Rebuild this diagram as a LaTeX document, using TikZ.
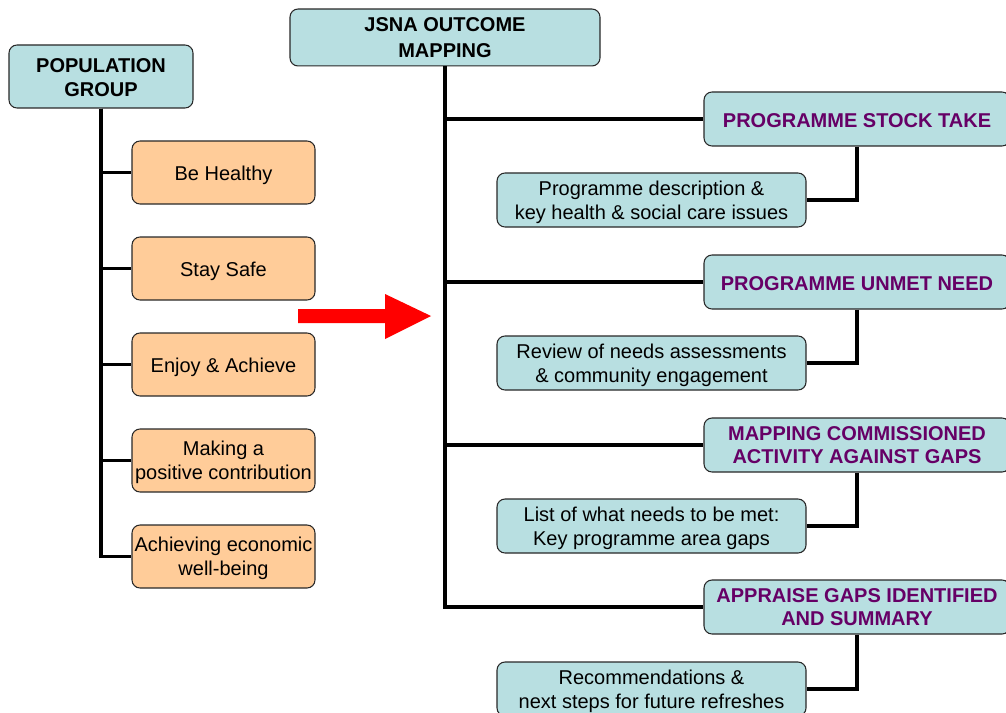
\documentclass[tikz,border=0pt]{standalone}
\usepackage{fontspec}
\setmainfont{Liberation Sans}
\definecolor{boxblue}{RGB}{184,223,225}
\definecolor{boxorange}{RGB}{255,204,153}
\definecolor{headpurple}{RGB}{102,0,102}
\definecolor{edgegray}{RGB}{40,40,40}
% multi-line text, with extra room on top to lower it a little
\newcommand\mltext[2]{\raisebox{0pt}[\dimexpr\height+#1\relax]{\begin{tabular}{@{}c@{}}#2\end{tabular}}}
\tikzset{
  box/.style={draw=edgegray, line width=0.8pt, rounded corners=6pt, align=center,
    inner sep=0pt, font=\fontsize{15}{18}\selectfont},
  topbox/.style={box, fill=boxblue, font=\fontsize{15}{17.5}\selectfont\bfseries},
  outbox/.style={box, fill=boxorange, minimum width=137.25pt, minimum height=47.25pt},
  stagebox/.style={box, fill=boxblue, minimum width=229.5pt, minimum height=40.5pt,
    text=headpurple, font=\fontsize{15}{17.6}\selectfont\bfseries},
  subbox/.style={box, fill=boxblue, minimum width=231.75pt, minimum height=40.5pt},
  link/.style={line width=2.3pt, black}
}
\begin{document}
\begin{tikzpicture}[x=0.75pt, y=-0.75pt]
\useasboundingbox (0,0) rectangle (1006,713);
\clip (0,0) rectangle (1006,713);

% left group
\node[topbox, minimum width=138pt, minimum height=47.25pt] (pop) at (101,76.5) {\mltext{5pt}{POPULATION\\GROUP}};
\node[outbox] (o1) at (223.5,172.5) {\rule{0pt}{15.5pt}Be Healthy};
\node[outbox] (o2) at (223.5,268.5) {\rule{0pt}{15.5pt}Stay Safe};
\node[outbox] (o3) at (223.5,364.5) {\rule{0pt}{15.5pt}Enjoy \& Achieve};
\node[outbox] (o4) at (223.5,460.5) {\mltext{3.6pt}{Making a\\positive contribution}};
\node[outbox] (o5) at (223.5,556.5) {\mltext{3.6pt}{Achieving economic\\well-being}};

% right group
\node[topbox, font=\fontsize{15}{20}\selectfont\bfseries, minimum width=232.5pt, minimum height=39.75pt] (jsna) at (445,37.5) {\mltext{2.7pt}{JSNA OUTCOME\\MAPPING}};
\node[stagebox] (p1) at (857,119) {\rule{0pt}{12.5pt}PROGRAMME STOCK TAKE};
\node[stagebox] (p2) at (857,282) {\rule{0pt}{12.5pt}PROGRAMME UNMET NEED};
\node[stagebox] (p3) at (857,445) {\mltext{3.6pt}{MAPPING COMMISSIONED\\ACTIVITY AGAINST GAPS}};
\node[stagebox] (p4) at (857,607) {\mltext{3.6pt}{APPRAISE GAPS IDENTIFIED\\AND SUMMARY}};
\node[subbox] (s1) at (651.5,200) {\mltext{3.6pt}{Programme description \&\\key health \& social care issues}};
\node[subbox] (s2) at (651.5,363) {\mltext{3.6pt}{Review of needs assessments\\\& community engagement}};
\node[subbox] (s3) at (651.5,526) {\mltext{3.6pt}{List of what needs to be met:\\Key programme area gaps}};
\node[subbox] (s4) at (651.5,689) {\mltext{3.6pt}{Recommendations \&\\next steps for future refreshes}};

% connectors
\foreach \o in {o1,o2,o3,o4,o5} \draw[link] (pop.south) |- (\o.west);
\foreach \p in {p1,p2,p3,p4} \draw[link] (jsna.south) |- (\p.west);
\draw[link] (p1.south) |- (s1.east);
\draw[link] (p2.south) |- (s2.east);
\draw[link] (p3.south) |- (s3.east);
\draw[link] (p4.south) |- (s4.east);

% red arrow
\fill[red] (298,309) -- (385,309) -- (385,294) -- (431,316) -- (385,339) -- (385,323) -- (298,323) -- cycle;
\end{tikzpicture}
\end{document}
